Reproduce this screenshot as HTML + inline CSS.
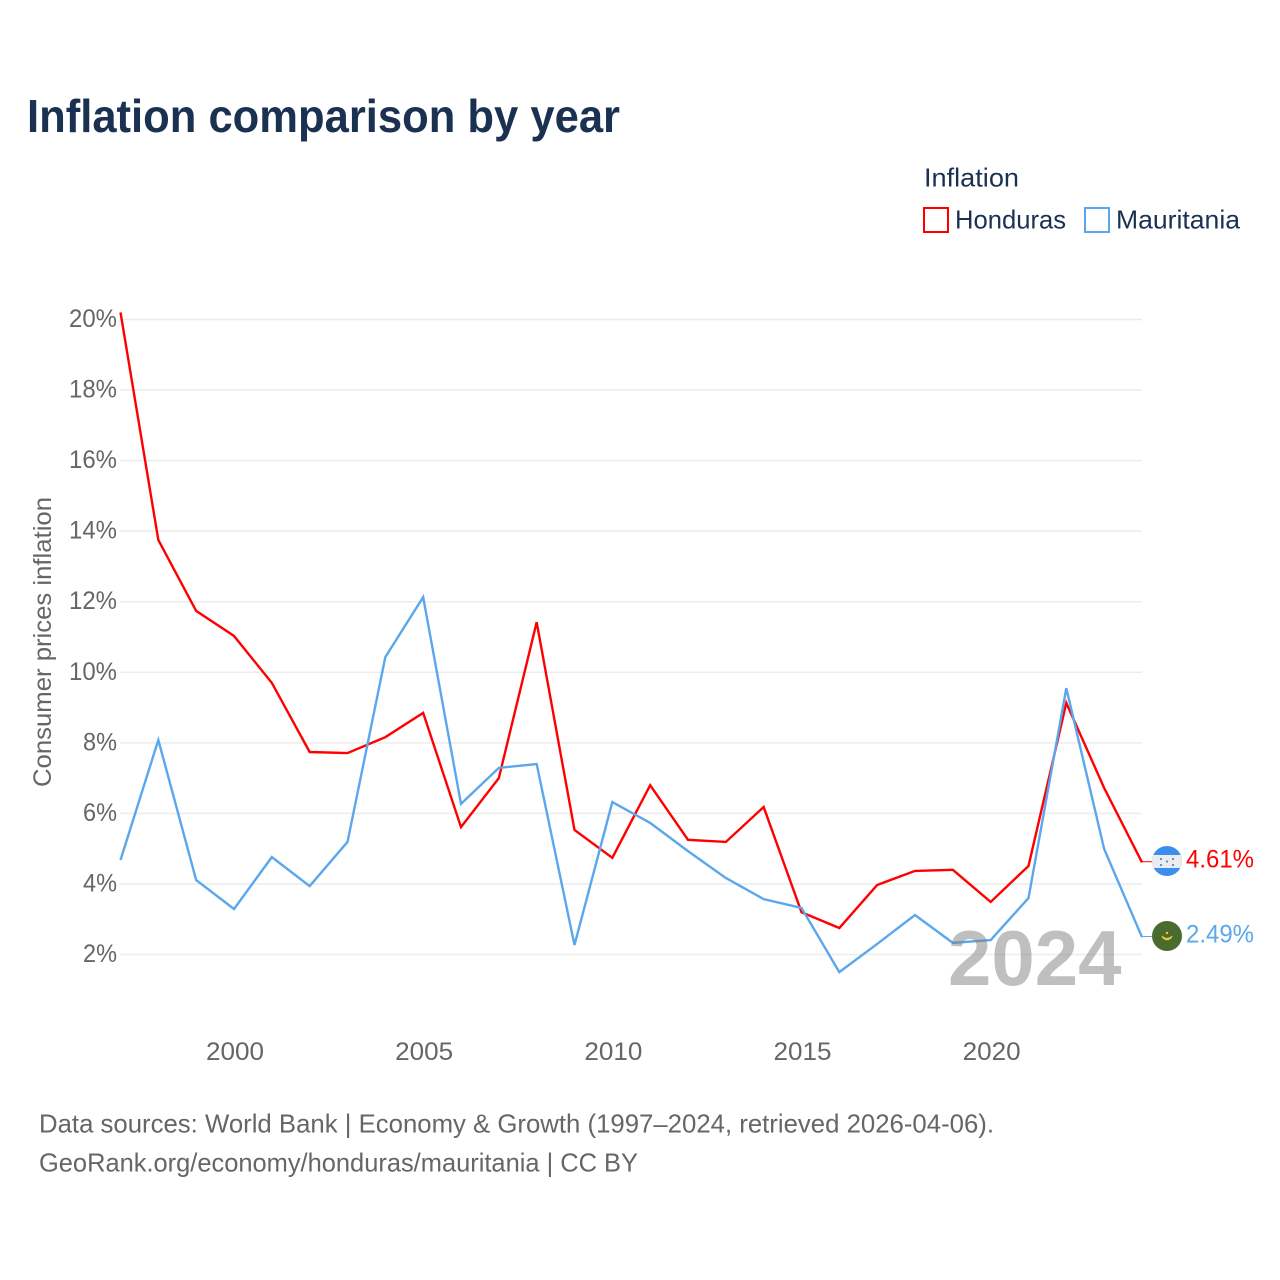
<!DOCTYPE html>
<html lang="en">
<head>
<meta charset="utf-8">
<title>Inflation comparison by year</title>
<style>
html,body{margin:0;padding:0;background:#fff;width:1280px;height:1280px;overflow:hidden}
svg{display:block}
text{font-family:"Liberation Sans",sans-serif}
</style>
</head>
<body>
<svg id="chart" xmlns="http://www.w3.org/2000/svg" width="1280" height="1280" viewBox="0 0 1280 1280">
  <rect width="1280" height="1280" fill="#fff"/>
  <text x="27" y="132" font-size="46" font-weight="700" fill="#1a3152" textLength="593" lengthAdjust="spacingAndGlyphs">Inflation comparison by year</text>

  <text x="924" y="186.500" font-size="26" fill="#1a3152" textLength="95" lengthAdjust="spacingAndGlyphs">Inflation</text>
  <rect x="924" y="208" width="24" height="24" fill="#fff" stroke="#ff0000" stroke-width="2"/>
  <text x="955" y="228.500" font-size="26" fill="#1a3152" textLength="111" lengthAdjust="spacingAndGlyphs">Honduras</text>
  <rect x="1085" y="208" width="24" height="24" fill="#fff" stroke="#5ba7ee" stroke-width="2"/>
  <text x="1116" y="228.500" font-size="26" fill="#1a3152" textLength="124" lengthAdjust="spacingAndGlyphs">Mauritania</text>

  <g id="grid"></g>
  <g id="yticks"></g>
  <g id="xticks"></g>
  <text transform="translate(51,787) rotate(-90)" font-size="25" fill="#666" textLength="290" lengthAdjust="spacingAndGlyphs">Consumer prices inflation</text>

  <g id="series"></g>

  <text x="948" y="985" font-size="78" font-weight="700" fill="#808080" fill-opacity="0.5">2024</text>

  <defs>
    <clipPath id="flag-clip-hn"><circle cx="1167" cy="861" r="15"/></clipPath>
  </defs>
  <g id="flag-honduras">
    <g clip-path="url(#flag-clip-hn)">
      <rect x="1152" y="846" width="30" height="30" fill="#3a8fee"/>
      <rect x="1152" y="855" width="30" height="13" fill="#ececec"/>
      <circle cx="1161" cy="859" r="1.1" fill="#3a8fee"/>
      <circle cx="1173" cy="859" r="1.1" fill="#3a8fee"/>
      <circle cx="1167" cy="861.5" r="1.1" fill="#3a8fee"/>
      <circle cx="1161" cy="865" r="1.1" fill="#3a8fee"/>
      <circle cx="1173" cy="865" r="1.1" fill="#3a8fee"/>
    </g>
  </g>
  <g id="flag-mauritania">
    <circle cx="1167" cy="936" r="15" fill="#4b6b2d"/>
    <path d="M1162 936 A5.2 5.2 0 0 0 1172 936 A6.5 6.5 0 0 1 1162 936 Z" fill="#e9c93c" stroke="#e9c93c" stroke-width="1"/>
    <circle cx="1167" cy="933" r="1.2" fill="#e9c93c"/>
  </g>

  <text x="1186" y="867.500" font-size="25" fill="#ff0000" textLength="68" lengthAdjust="spacingAndGlyphs">4.61%</text>
  <text x="1186" y="942.500" font-size="25" fill="#5ba7ee" textLength="68" lengthAdjust="spacingAndGlyphs">2.49%</text>

  <text x="39" y="1132.500" font-size="26" fill="#666" textLength="955" lengthAdjust="spacingAndGlyphs">Data sources: World Bank | Economy &amp; Growth (1997–2024, retrieved 2026-04-06).</text>
  <text x="39" y="1171.500" font-size="26" fill="#666" textLength="599" lengthAdjust="spacingAndGlyphs">GeoRank.org/economy/honduras/mauritania | CC BY</text>
</svg>
<script>
const years = [1997,1998,1999,2000,2001,2002,2003,2004,2005,2006,2007,2008,2009,2010,2011,2012,2013,2014,2015,2016,2017,2018,2019,2020,2021,2022,2023,2024];
const hondurasValues = [20.2,13.75,11.74,11.03,9.7,7.74,7.71,8.16,8.85,5.61,7.0,11.42,5.53,4.74,6.8,5.25,5.19,6.18,3.2,2.75,3.97,4.37,4.4,3.49,4.51,9.13,6.72,4.61];
const mauritaniaValues = [4.68,8.08,4.11,3.29,4.76,3.94,5.19,10.43,12.13,6.27,7.29,7.4,2.27,6.32,5.73,4.93,4.17,3.57,3.32,1.5,2.3,3.12,2.33,2.41,3.6,9.55,4.99,2.49];
const yTickValues = [2,4,6,8,10,12,14,16,18,20];
const xTickValues = [2000,2005,2010,2015,2020];

const NS = 'http://www.w3.org/2000/svg';
const xScale = function (year) { return 120.5 + (year - 1997) * (1142 - 120.5) / 27; };
const yScale = function (v) { return 954.5 - (v - 2) * (954.5 - 319.5) / 18; };
const make = function (tag, parent) {
  const el = document.createElementNS(NS, tag);
  parent.appendChild(el);
  return el;
};

const grid = document.getElementById('grid');
const yticks = document.getElementById('yticks');
yTickValues.forEach(function (v) {
  const line = make('line', grid);
  
  
  line.setAttribute('x1', 120);
  line.setAttribute('x2', 1142);
  line.setAttribute('y1', yScale(v));
  line.setAttribute('y2', yScale(v));
  line.setAttribute('stroke', '#ececec');
  line.setAttribute('stroke-width', '1.5');

  const label = make('text', yticks);
  
  
  label.setAttribute('x', 117);
  label.setAttribute('y', yScale(v) + 7.5);
  label.setAttribute('text-anchor', 'end');
  label.setAttribute('font-size', '25');
  label.setAttribute('fill', '#666');
  label.setAttribute('textLength', v < 10 ? 34 : 48);
  label.setAttribute('lengthAdjust', 'spacingAndGlyphs');
  label.textContent = v + '%';
});

const xticks = document.getElementById('xticks');
xTickValues.forEach(function (year) {
  const label = make('text', xticks);
  
  
  label.setAttribute('x', xScale(year) + 1);
  label.setAttribute('y', 1060);
  label.setAttribute('text-anchor', 'middle');
  label.setAttribute('font-size', '25');
  label.setAttribute('fill', '#666');
  label.setAttribute('textLength', 58);
  label.setAttribute('lengthAdjust', 'spacingAndGlyphs');
  label.textContent = year;
});

const seriesGroup = document.getElementById('series');
const drawSeries = function (values, color, key) {
  const pts = values.map(function (v, i) { return xScale(years[i]).toFixed(2) + ',' + yScale(v).toFixed(2); }).join(' ');
  const line = make('polyline', seriesGroup);
  
  
  line.setAttribute('points', pts);
  line.setAttribute('fill', 'none');
  line.setAttribute('stroke', color);
  line.setAttribute('stroke-width', '2.4');
  line.setAttribute('stroke-linejoin', 'miter');

  const lastY = yScale(values[values.length - 1]) - 0.7;
  const leader = make('line', seriesGroup);
  
  
  leader.setAttribute('x1', xScale(years[years.length - 1]));
  leader.setAttribute('x2', 1152);
  leader.setAttribute('y1', lastY);
  leader.setAttribute('y2', lastY);
  leader.setAttribute('stroke', color);
  leader.setAttribute('stroke-width', '1');
};
drawSeries(hondurasValues, '#ff0000', 'honduras');
drawSeries(mauritaniaValues, '#5ba7ee', 'mauritania');
</script>
</body>
</html>
